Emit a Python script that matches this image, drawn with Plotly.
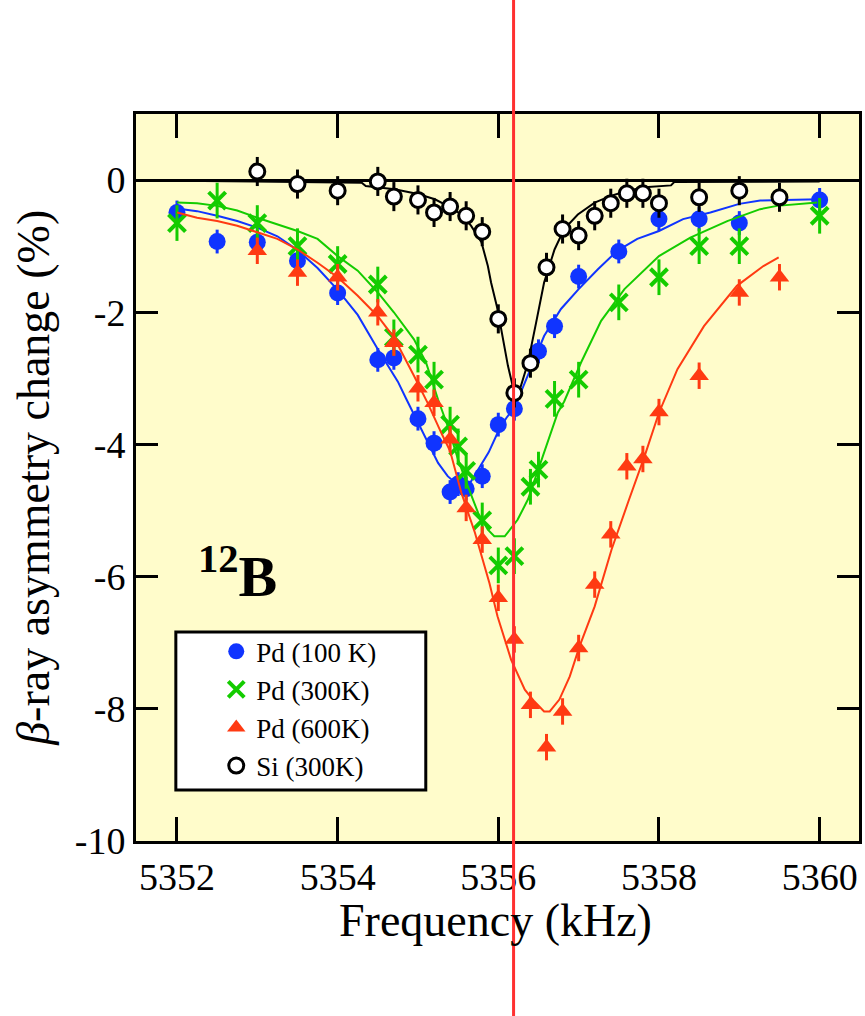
import plotly.graph_objects as go

# ---- measured points: frequency (kHz) and beta-asymmetry change (%) ----
pd100_f = [5352.0, 5352.5, 5353.0, 5353.5, 5354.0, 5354.5, 5354.7, 5355.0, 5355.2,
           5355.4, 5355.5, 5355.6, 5355.8, 5356.0, 5356.2, 5356.5, 5356.7, 5357.0,
           5357.5, 5358.0, 5358.5, 5359.0, 5360.0]
pd100_v = [-0.49, -0.93, -0.94, -1.22, -1.71, -2.72, -2.69, -3.61, -3.98,
           -4.72, -4.60, -4.67, -4.48, -3.70, -3.46, -2.59, -2.21, -1.46,
           -1.08, -0.59, -0.59, -0.65, -0.30]

pd300_f = [5352.0, 5352.5, 5353.0, 5353.5, 5354.0, 5354.5, 5354.7, 5355.0, 5355.2,
           5355.4, 5355.5, 5355.6, 5355.8, 5356.0, 5356.2, 5356.4, 5356.5, 5356.7,
           5357.0, 5357.5, 5358.0, 5358.5, 5359.0, 5360.0]
pd300_v = [-0.65, -0.31, -0.65, -1.00, -1.27, -1.58, -2.38, -2.64, -3.02,
           -3.70, -4.03, -4.40, -5.15, -5.83, -5.69, -4.64, -4.38, -3.31,
           -3.02, -1.85, -1.47, -1.00, -1.00, -0.54]

pd600_f = [5353.0, 5353.5, 5354.0, 5354.5, 5354.7, 5355.0, 5355.2, 5355.4, 5355.6,
           5355.8, 5356.0, 5356.2, 5356.4, 5356.6, 5356.8, 5357.0, 5357.2, 5357.4,
           5357.6, 5357.8, 5358.0, 5358.5, 5359.0, 5359.5]
pd600_v = [-1.07, -1.40, -1.47, -2.00, -2.46, -3.15, -3.37, -3.92, -4.96,
           -5.44, -6.32, -6.95, -7.94, -8.58, -8.04, -7.08, -6.12, -5.36,
           -4.33, -4.22, -3.51, -2.96, -1.70, -1.47]

si300_f = [5353.0, 5353.5, 5354.0, 5354.5, 5354.7, 5355.0, 5355.2, 5355.4, 5355.6,
           5355.8, 5356.0, 5356.2, 5356.4, 5356.6, 5356.8, 5357.0, 5357.2, 5357.4,
           5357.6, 5357.8, 5358.0, 5358.5, 5359.0, 5359.5]
si300_v = [0.13, -0.06, -0.16, -0.02, -0.25, -0.30, -0.49, -0.40, -0.54,
           -0.78, -2.10, -3.22, -2.77, -1.32, -0.74, -0.84, -0.54, -0.35,
           -0.20, -0.20, -0.35, -0.26, -0.16, -0.26]

# statistical uncertainty of each run (%)
pd100_err = 0.18
pd300_err = 0.27
pd600_err = 0.20
si300_err = 0.22

# ---- simulated resonance curves ----
fit100_f = [5352.0, 5352.25, 5352.5, 5352.75, 5353.0, 5353.25, 5353.5, 5353.75, 5354.0,
            5354.25, 5354.5, 5354.75, 5354.85, 5355.0, 5355.12, 5355.25, 5355.37, 5355.54,
            5355.65, 5355.74, 5355.88, 5356.0, 5356.1, 5356.21, 5356.37, 5356.57, 5356.78,
            5357.0, 5357.24, 5357.48, 5357.73, 5358.0, 5358.3, 5358.64, 5359.0, 5359.26, 5360.0]
fit100_v = [-0.43, -0.47, -0.54, -0.62, -0.72, -0.85, -1.06, -1.33, -1.66,
            -2.04, -2.56, -3.05, -3.30, -3.67, -3.97, -4.28, -4.48, -4.66,
            -4.58, -4.40, -4.12, -3.80, -3.60, -3.42, -2.96, -2.36, -1.95,
            -1.65, -1.35, -1.07, -0.89, -0.77, -0.59, -0.49, -0.36, -0.31, -0.29]

fit300_f = [5352.0, 5352.25, 5352.5, 5352.75, 5353.0, 5353.25, 5353.5, 5353.75, 5354.0,
            5354.25, 5354.5, 5354.7, 5354.95, 5355.1, 5355.25, 5355.37, 5355.5, 5355.62,
            5355.75, 5355.87, 5355.95, 5356.08, 5356.24, 5356.37, 5356.57, 5356.74, 5356.82,
            5357.03, 5357.28, 5357.57, 5358.0, 5358.39, 5358.85, 5359.26, 5359.47, 5359.97]
fit300_v = [-0.34, -0.35, -0.39, -0.46, -0.57, -0.67, -0.77, -0.89, -1.15,
            -1.37, -1.70, -2.00, -2.41, -2.76, -3.32, -3.72, -4.23, -4.63,
            -5.04, -5.29, -5.39, -5.39, -5.14, -4.83, -4.13, -3.52, -3.35,
            -2.76, -2.13, -1.65, -1.15, -0.87, -0.62, -0.44, -0.39, -0.34]

fit600_f = [5352.0, 5352.25, 5352.5, 5352.75, 5353.0, 5353.25, 5353.5, 5353.75, 5354.0,
            5354.25, 5354.5, 5354.7, 5354.95, 5355.12, 5355.3, 5355.4, 5355.54, 5355.71,
            5355.89, 5355.99, 5356.16, 5356.33, 5356.45, 5356.57, 5356.64, 5356.76, 5356.89,
            5357.01, 5357.2, 5357.41, 5357.62, 5357.82, 5358.0, 5358.23, 5358.56, 5358.97,
            5359.3, 5359.49]
fit600_v = [-0.49, -0.57, -0.62, -0.69, -0.79, -0.89, -1.05, -1.25, -1.47,
            -1.75, -2.06, -2.38, -2.96, -3.37, -3.85, -4.10, -4.73, -5.34,
            -6.10, -6.60, -7.26, -7.71, -7.89, -8.04, -8.04, -7.86, -7.51,
            -7.06, -6.45, -5.59, -4.86, -4.18, -3.52, -2.86, -2.21, -1.60,
            -1.30, -1.17]

fitsi_f = [5352.0, 5354.3, 5354.35, 5354.71, 5355.0, 5355.21, 5355.37, 5355.54, 5355.66,
           5355.79, 5355.87, 5355.91, 5355.99, 5356.05, 5356.12, 5356.18, 5356.22, 5356.28,
           5356.37, 5356.47, 5356.57, 5356.7, 5356.82, 5356.99, 5357.2, 5357.4, 5357.61,
           5357.82, 5358.15, 5358.19, 5360.0]
fitsi_v = [-0.01, -0.04, -0.09, -0.14, -0.21, -0.29, -0.39, -0.52, -0.69,
           -0.94, -1.30, -1.55, -1.95, -2.36, -2.81, -3.12, -3.24, -3.12,
           -2.76, -2.16, -1.55, -1.05, -0.74, -0.52, -0.34, -0.24, -0.16,
           -0.11, -0.08, -0.03, -0.02]

# Larmor frequency marker (kHz)
f_marker = 5356.19

x_ticks = [5352, 5354, 5356, 5358, 5360]
x_tick_text = ["5352", "5354", "5356", "5358", "5360"]
y_ticks = [0, -2, -4, -6, -8, -10]
y_tick_text = ["0", "-2", "-4", "-6", "-8", "-10"]

BLUE = "#1034ff"
GREEN = "#14cc00"
RED = "#ff3a12"
BLACK = "#000000"
SERIF = "Liberation Serif, Times New Roman, serif"

fig = go.Figure()

def add_series(f, v, err, name, color, marker, fit_f, fit_v):
    fig.add_trace(go.Scatter(
        x=fit_f, y=fit_v, mode="lines", showlegend=False,
        line=dict(color=color, width=2), hoverinfo="skip"))
    fig.add_trace(go.Scatter(
        x=f, y=v, mode="markers", name=name, marker=marker,
        error_y=dict(type="constant", value=err, color=color,
                     thickness=3, width=0)))

add_series(pd100_f, pd100_v, pd100_err, "Pd (100 K)", BLUE,
           dict(symbol="circle", size=17, color=BLUE), fit100_f, fit100_v)
add_series(pd300_f, pd300_v, pd300_err, "Pd (300K)", GREEN,
           dict(symbol="x-thin", size=17, color=GREEN,
                line=dict(color=GREEN, width=4)), fit300_f, fit300_v)
add_series(pd600_f, pd600_v, pd600_err, "Pd (600K)", RED,
           dict(symbol="triangle-up", size=17, color=RED), fit600_f, fit600_v)
add_series(si300_f, si300_v, si300_err, "Si (300K)", BLACK,
           dict(symbol="circle", size=15, color="white",
                line=dict(color=BLACK, width=3)), fitsi_f, fitsi_v)

axis_common = dict(
    showline=True, linecolor="black", linewidth=3, mirror="ticks",
    ticks="inside", tickwidth=3, tickcolor="black",
    showgrid=False,
    tickfont=dict(family=SERIF, size=38, color="black"),
)

fig.update_xaxes(range=[5351.49, 5360.49], tickvals=x_ticks, ticktext=x_tick_text,
                 ticklen=24, zeroline=False, **axis_common)
fig.update_yaxes(range=[-10, 1], tickvals=y_ticks, ticktext=y_tick_text, ticklen=22,
                 zeroline=True, zerolinecolor="black", zerolinewidth=3,
                 **axis_common)

# vertical marker line spanning the whole page height
fig.add_shape(type="line", xref="x", yref="paper", x0=f_marker, x1=f_marker,
              y0=-0.25, y1=1.17, line=dict(color="#ff3030", width=3),
              layer="above")

# legend frame
fig.add_shape(type="rect", xref="paper", yref="paper",
              x0=0.0551, x1=0.4008, y0=0.0702, y1=0.2875,
              line=dict(color="black", width=3), fillcolor="white", layer="above")

fig.add_annotation(text="<b><sup>12</sup>B</b>", xref="paper", yref="paper",
                   x=0.083, y=0.369, xanchor="left", yanchor="middle",
                   showarrow=False, font=dict(family=SERIF, size=58, color="black"))

fig.add_annotation(text="Frequency (kHz)", xref="paper", yref="paper",
                   x=0.497, y=-0.109, xanchor="center", yanchor="middle",
                   showarrow=False, font=dict(family=SERIF, size=46, color="black"))
fig.add_annotation(text="<i>β</i>-ray asymmetry change (%)", xref="paper", yref="paper",
                   x=-0.142, y=0.5, xanchor="center", yanchor="middle", textangle=-90,
                   showarrow=False, font=dict(family=SERIF, size=46, color="black"))

fig.update_layout(
    width=865, height=1016,
    margin=dict(l=136, r=3, t=114, b=175),
    paper_bgcolor="white", plot_bgcolor="#fffccb",
    showlegend=True,
    legend=dict(x=0.111, y=0.294, xanchor="left", yanchor="top",
                bgcolor="rgba(0,0,0,0)", borderwidth=0,
                font=dict(family=SERIF, size=27, color="black"),
                tracegroupgap=0),
)

fig.write_html("out.html")
